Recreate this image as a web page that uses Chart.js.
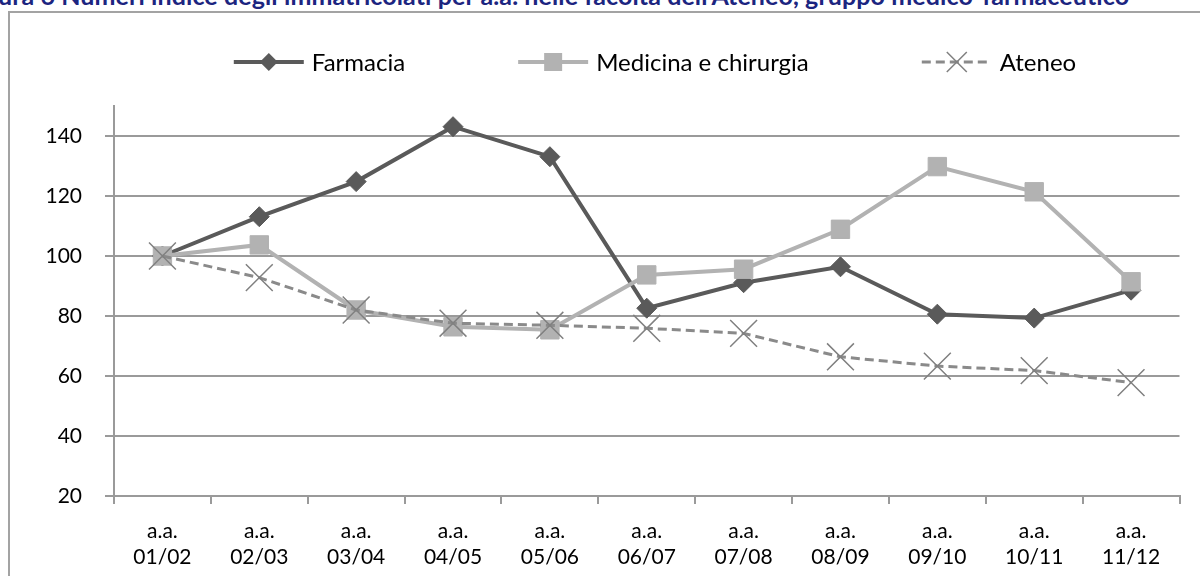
<!DOCTYPE html>
<html>
<head>
<meta charset="utf-8">
<script src="https://cdn.jsdelivr.net/npm/chart.js@4/dist/chart.umd.min.js"></script>
<style>
  html, body { margin: 0; padding: 0; background: #fff; overflow: hidden; }
  .page { position: relative; width: 1200px; height: 576px; overflow: hidden; }
  .caption {
    position: absolute; left: -36px; top: -17px; white-space: nowrap;
    font: bold 25px Lato, "Open Sans", sans-serif; line-height: 25px; color: #1c2580;
    letter-spacing: 0.1px;
  }
  .frame {
    position: absolute; left: 8px; top: 11px; width: 1300px; height: 700px;
    border: 2px solid #a3a3a3; box-sizing: border-box;
  }
  canvas { position: absolute; left: 0; top: 0; }
</style>
</head>
<body>
<div class="page">
  <div class="caption">Figura 6 Numeri indice degli immatricolati per a.a. nelle facoltà dell'Ateneo, gruppo medico-farmaceutico</div>
  <div class="frame"></div>
  <canvas id="chart" width="1200" height="576"></canvas>
</div>
<script>
const years = ['01/02', '02/03', '03/04', '04/05', '05/06', '06/07', '07/08', '08/09', '09/10', '10/11', '11/12'];
const farmacia = [100, 113.1, 124.8, 143.1, 133.1, 82.6, 91.1, 96.4, 80.6, 79.3, 88.6];
const medicina = [100, 103.7, 82.0, 76.4, 75.4, 93.7, 95.6, 108.9, 129.8, 121.4, 91.4];
const ateneo = [100, 92.8, 82.0, 77.6, 76.9, 75.9, 74.2, 66.4, 63.3, 61.8, 57.8];
const yTicks = [20, 40, 60, 80, 100, 120, 140];

const FONT = 'Lato, "Open Sans", sans-serif';
const axisGrey = '#9a9a9a';

// Excel-style legend: a short line sample with the marker in the middle
const lineLegend = {
  id: 'lineLegend',
  afterDraw(chart) {
    const ctx = chart.ctx;
    const sample = 70, gap = 8, spacing = 113, centerX = 655, y = 62;
    ctx.save();
    ctx.font = '24px ' + FONT;
    const items = chart.data.datasets.map(ds => ({ ds, w: sample + gap + ctx.measureText(ds.label).width }));
    const total = items.reduce((s, it) => s + it.w, 0) + spacing * (items.length - 1);
    let x = centerX - total / 2;
    items.forEach(({ ds, w }) => {
      ctx.strokeStyle = ds.borderColor;
      ctx.lineWidth = ds.borderWidth;
      ctx.setLineDash(ds.borderDash || []);
      ctx.beginPath();
      ctx.moveTo(x, y);
      ctx.lineTo(x + sample, y);
      ctx.stroke();
      ctx.setLineDash([]);
      drawMarker(ctx, ds, x + sample / 2, y);
      ctx.fillStyle = '#000';
      ctx.textBaseline = 'middle';
      ctx.textAlign = 'left';
      ctx.fillText(ds.label, x + sample + gap, y + 1);
      x += w + spacing;
    });
    ctx.restore();
  }
};

function drawMarker(ctx, ds, cx, cy) {
  ctx.fillStyle = ds.pointBackgroundColor;
  ctx.strokeStyle = ds.pointBorderColor;
  ctx.lineWidth = ds.pointBorderWidth;
  ctx.beginPath();
  if (ds.pointStyle === 'rectRot') {
    const r = 9;
    ctx.moveTo(cx, cy - r); ctx.lineTo(cx + r, cy); ctx.lineTo(cx, cy + r); ctx.lineTo(cx - r, cy);
    ctx.closePath(); ctx.fill();
  } else if (ds.pointStyle === 'rect') {
    const h = 9;
    ctx.rect(cx - h, cy - h, 2 * h, 2 * h); ctx.fill();
  } else {
    const h = 10;
    ctx.moveTo(cx - h, cy - h); ctx.lineTo(cx + h, cy + h);
    ctx.moveTo(cx + h, cy - h); ctx.lineTo(cx - h, cy + h);
    ctx.stroke();
  }
}

new Chart(document.getElementById('chart'), {
  type: 'line',
  data: {
    labels: years.map(y => ['a.a.', y]),
    datasets: [
      {
        label: 'Farmacia', data: farmacia, order: 3,
        borderColor: '#5a5a5a', borderWidth: 4,
        pointStyle: 'rectRot', pointRadius: 10, pointHoverRadius: 10,
        pointBackgroundColor: '#5a5a5a', pointBorderColor: '#5a5a5a', pointBorderWidth: 1
      },
      {
        label: 'Medicina e chirurgia', data: medicina, order: 2,
        borderColor: '#b2b2b2', borderWidth: 4,
        pointStyle: 'rect', pointRadius: 13, pointHoverRadius: 13,
        pointBackgroundColor: '#b2b2b2', pointBorderColor: '#b2b2b2', pointBorderWidth: 1
      },
      {
        label: 'Ateneo', data: ateneo, order: 1,
        borderColor: '#8a8a8a', borderWidth: 3, borderDash: [9, 5],
        pointStyle: 'crossRot', pointRadius: 19, pointHoverRadius: 19,
        pointBackgroundColor: '#808080', pointBorderColor: '#808080', pointBorderWidth: 1.5
      }
    ]
  },
  options: {
    responsive: false,
    animation: false,
    layout: { padding: { left: 44, right: 17, top: 106, bottom: 0 } },
    plugins: { legend: { display: false }, tooltip: { enabled: false } },
    scales: {
      x: {
        offset: true,
        grid: { offset: true, drawOnChartArea: false, drawTicks: true, tickLength: 8, color: axisGrey, lineWidth: 2 },
        border: { color: axisGrey, width: 2 },
        ticks: { color: '#000', font: { family: FONT, size: 21, lineHeight: 1.25 }, padding: 14, maxRotation: 0 },
        afterFit: s => { s.height = 80; }
      },
      y: {
        min: 20, max: 150,
        afterBuildTicks: s => { s.ticks = yTicks.map(v => ({ value: v })); },
        grid: { color: axisGrey, lineWidth: 2, tickLength: 9 },
        border: { color: axisGrey, width: 2 },
        ticks: { color: '#000', font: { family: FONT, size: 21 }, padding: 23 },
        afterFit: s => { s.width = 70; }
      }
    }
  },
  plugins: [lineLegend]
});
</script>
</body>
</html>
